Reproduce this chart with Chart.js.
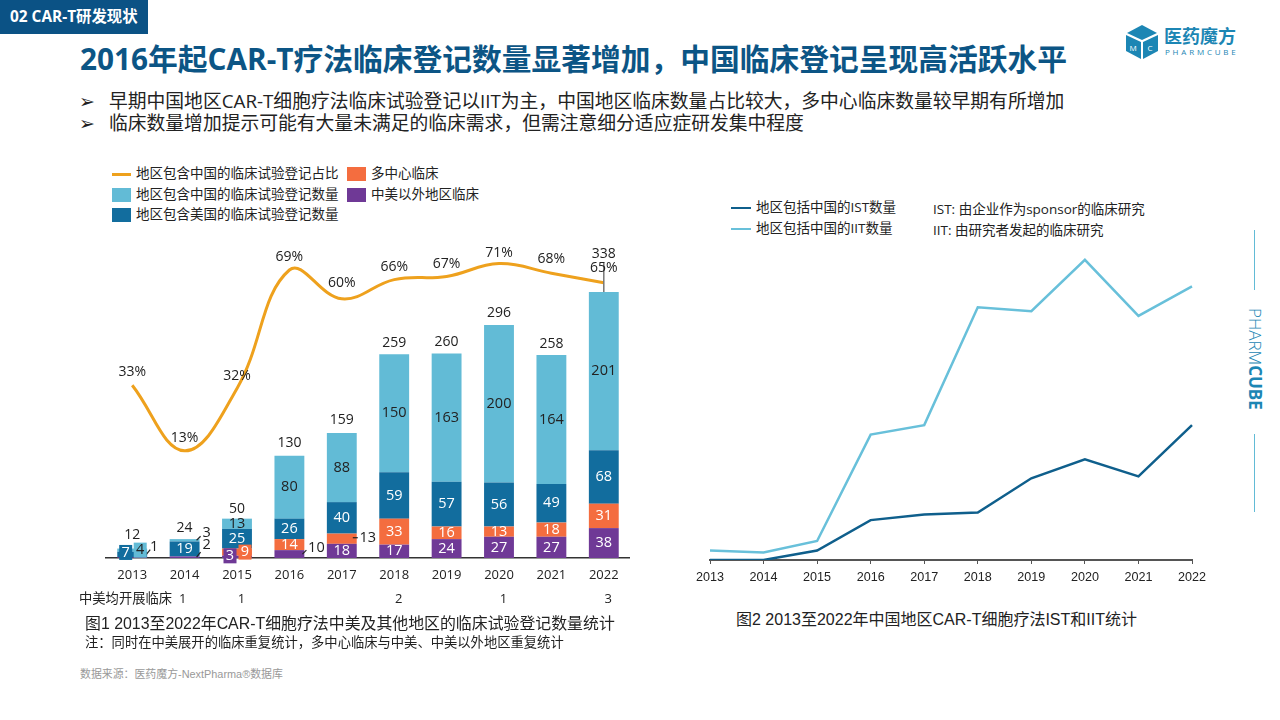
<!DOCTYPE html>
<html>
<head>
<meta charset="utf-8">
<script src="https://cdn.jsdelivr.net/npm/chart.js@4"></script>
<style>
html,body{margin:0;padding:0;background:#fff}
body{width:1280px;height:720px;position:relative;overflow:hidden;font-family:"Open Sans","Noto Sans CJK SC",sans-serif;color:#222}
.t{position:absolute;white-space:nowrap;line-height:1}
.a{font-family:"Liberation Sans","Noto Sans CJK SC",sans-serif}
canvas{position:absolute}
.sw{position:absolute;width:19px;height:14px}
.rule{position:absolute;background:#62bbd6}
</style>
</head>
<body>
<div class="t" style="left:0;top:0;width:148px;height:34px;background:#0b5285;color:#fff;font-size:15.4px;font-weight:700;line-height:34px;text-indent:10px">02 CAR-T研发现状</div>
<div class="t" style="left:80px;top:42px;font-size:29.75px;font-weight:700;color:#0c5585;line-height:34px">2016年起CAR-T疗法临床登记数量显著增加，中国临床登记呈现高活跃水平</div>

<svg style="position:absolute;left:1125px;top:24px" width="34" height="36" viewBox="0 0 34 36">
<polygon points="17,1 32,9 17,16 2,9" fill="#1c86b4"/>
<polygon points="1,11 16,18 16,35 1,27" fill="#1c86b4"/>
<polygon points="33,11 18,18 18,35 33,27" fill="#1c86b4"/>
<text x="8" y="27" font-size="8" fill="#fff" text-anchor="middle" font-family="Open Sans">M</text>
<text x="25" y="27" font-size="8" fill="#fff" text-anchor="middle" font-family="Open Sans">C</text>
</svg>
<div class="t" style="left:1164px;top:27px;font-size:18px;font-weight:600;color:#1c86b4">医药魔方</div>
<div class="t" style="left:1165px;top:48px;font-size:8px;letter-spacing:2.8px;color:#1c86b4">PHARMCUBE</div>

<div class="t" style="left:79px;top:92px;font-size:19px">➢</div>
<div class="t" style="left:109px;top:92px;font-size:18.8px">早期中国地区CAR-T细胞疗法临床试验登记以IIT为主，中国地区临床数量占比较大，多中心临床数量较早期有所增加</div>
<div class="t" style="left:79px;top:114px;font-size:19px">➢</div>
<div class="t" style="left:109px;top:114px;font-size:18.8px">临床数量增加提示可能有大量未满足的临床需求，但需注意细分适应症研发集中程度</div>

<div style="position:absolute;left:112px;top:173px;width:19px;height:3px;background:#eea11d"></div>
<div class="t" style="left:136px;top:167px;font-size:13.5px">地区包含中国的临床试验登记占比</div>
<div class="sw" style="left:112px;top:188px;background:#62bbd6"></div>
<div class="t" style="left:136px;top:188px;font-size:13.5px">地区包含中国的临床试验登记数量</div>
<div class="sw" style="left:112px;top:208px;background:#126d9e"></div>
<div class="t" style="left:136px;top:208px;font-size:13.5px">地区包含美国的临床试验登记数量</div>
<div class="sw" style="left:347px;top:167px;background:#f46d3f"></div>
<div class="t" style="left:371px;top:167px;font-size:13.5px">多中心临床</div>
<div class="sw" style="left:347px;top:188px;background:#6f3996"></div>
<div class="t" style="left:371px;top:188px;font-size:13.5px">中美以外地区临床</div>

<canvas id="chart-left" width="550" height="360" style="left:80px;top:230px"></canvas>

<div class="t" style="left:79px;top:592px;font-size:13.3px">中美均开展临床</div>
<div id="both-row"></div>
<div class="t a" style="left:85px;top:616px;font-size:15.9px">图1 2013至2022年CAR-T细胞疗法中美及其他地区的临床试验登记数量统计</div>
<div class="t" style="left:85px;top:636px;font-size:13.3px">注：同时在中美展开的临床重复统计，多中心临床与中美、中美以外地区重复统计</div>
<div class="t a" style="left:80px;top:669px;font-size:10.9px;color:#999">数据来源：医药魔方-NextPharma®数据库</div>

<div style="position:absolute;left:731px;top:207px;width:20px;height:2px;background:#0f5f8c"></div>
<div class="t" style="left:756px;top:201px;font-size:13.5px">地区包括中国的IST数量</div>
<div style="position:absolute;left:731px;top:228px;width:20px;height:2px;background:#68c0da"></div>
<div class="t" style="left:756px;top:222px;font-size:13.5px">地区包括中国的IIT数量</div>
<div class="t" style="left:933px;top:203px;font-size:13.5px">IST: 由企业作为sponsor的临床研究</div>
<div class="t" style="left:933px;top:224px;font-size:13.5px">IIT: 由研究者发起的临床研究</div>

<canvas id="chart-right" width="518" height="360" style="left:690px;top:230px"></canvas>
<div class="t a" style="left:736px;top:612px;font-size:16px">图2 2013至2022年中国地区CAR-T细胞疗法IST和IIT统计</div>

<div class="rule" style="left:1254px;top:230px;width:1px;height:60px"></div>
<div class="rule" style="left:1254px;top:434px;width:1px;height:78px"></div>
<div class="t" style="left:1247px;top:308px;font-size:17px;font-weight:300;color:#1c86b4;writing-mode:vertical-rl"><span>PHARM</span><b style="font-weight:700">CUBE</b></div>

<script>
const years=['2013','2014','2015','2016','2017','2018','2019','2020','2021','2022'];
const otherRegion=[1,2,3,10,18,17,24,27,27,38];
const multiCenter=[0,0,9,14,13,33,16,13,18,31];
const usCount=[7,19,25,26,40,59,57,56,49,68];
const chinaCount=[4,3,13,80,88,150,163,200,164,201];
const totals=[12,24,50,130,159,259,260,296,258,338];
const chinaShare=[33,12.5,32,69,60,66,67,71,68,65];
const bothCount=[1,null,1,null,null,2,null,1,null,3];
const istCount=[0,0,5,21,24,25,43,53,44,71];
const iitCount=[5,4,10,66,71,133,131,158,128.5,144];

const FONT='"Open Sans","Noto Sans CJK SC",sans-serif';
const C_LIGHT='#62bbd6',C_DARK='#126d9e',C_ORANGE='#f46d3f',C_PURPLE='#6f3996',C_LINE='#eea11d',C_NAVY='#0f5f8c';

// small segments: label nudge, coloured box, or leader (relative to the label)
const nudges={
  '0,0':{dx:22,dy:-11,leader:[-8,8,-4,3],text:'#222'},
  '0,1':{dx:22,dy:-12,leader:[-10,12,-6,7],text:'#222'},
  '0,2':{dx:-7,dy:-1,box:1},
  '0,3':{dx:27,dy:-6,leader:[-14,6,-10,2],text:'#222'},
  '1,2':{dx:8,dy:0,box:1},
  '1,4':{dx:26,dy:-1,leader:[-15,0,-10,0],text:'#222'},
  '2,0':{dx:-6.5,dy:-2,box:1},
  '3,0':{dx:8,dy:0,box:1,text:'#222'},
  '3,1':{dx:22,dy:-7,leader:[-10,7,-6,3],text:'#222'}
};
const totalNudge=[-14,-11,-10,-13,-13,-11,-11,-12,-11,-38];
const shareNudge=[-13,-13,-12,-13,-16,-13,-12,-11,-14,-15];

const barLabels={
  id:'barLabels',
  afterDraw(chart){
    const {ctx,scales}=chart;
    ctx.save();
    ctx.font='14.5px '+FONT; ctx.textAlign='center'; ctx.textBaseline='middle';
    chart.data.datasets.forEach((ds,d)=>{
      if(ds.type==='line') return;
      chart.getDatasetMeta(d).data.forEach((bar,i)=>{
        const v=ds.data[i]; if(!v) return;
        const n=nudges[d+','+i]||{dx:0,dy:0};
        const cx=bar.x+n.dx, cy=(bar.y+bar.base)/2+n.dy;
        if(n.box){
          ctx.fillStyle=ds.backgroundColor;
          ctx.fillRect(cx-6.5,cy-7.5,13,15);
        }
        if(n.leader){
          const l=n.leader;
          ctx.strokeStyle='#222'; ctx.lineWidth=1.2;
          ctx.beginPath(); ctx.moveTo(cx+l[0],cy+l[1]); ctx.lineTo(cx+l[2],cy+l[3]); ctx.stroke();
        }
        ctx.fillStyle=n.text||(d<3?'#fff':'#222');
        ctx.fillText(v,cx,cy);
      });
    });
    // totals above each stack, shares above the line
    const lineMeta=chart.getDatasetMeta(4);
    // leader from the last point down to the bar
    const last=lineMeta.data[9];
    ctx.strokeStyle='#777'; ctx.lineWidth=1.5;
    ctx.beginPath(); ctx.moveTo(last.x,last.y-20); ctx.lineTo(last.x,scales.y.getPixelForValue(338)); ctx.stroke();
    ctx.font='14px '+FONT; ctx.fillStyle='#222';
    totals.forEach((t,i)=>{
      ctx.fillText(t,scales.x.getPixelForValue(i),scales.y.getPixelForValue(t)+totalNudge[i]);
    });
    lineMeta.data.forEach((pt,i)=>{
      ctx.fillText(Math.round(chinaShare[i])+'%',pt.x,pt.y+shareNudge[i]);
    });
    ctx.restore();
  }
};

new Chart(document.getElementById('chart-left'),{
  type:'bar',
  data:{labels:years,datasets:[
    {label:'中美以外地区临床',data:otherRegion,backgroundColor:C_PURPLE,stack:'s'},
    {label:'多中心临床',data:multiCenter,backgroundColor:C_ORANGE,stack:'s'},
    {label:'地区包含美国的临床试验登记数量',data:usCount,backgroundColor:C_DARK,stack:'s'},
    {label:'地区包含中国的临床试验登记数量',data:chinaCount,backgroundColor:C_LIGHT,stack:'s'},
    {type:'line',label:'地区包含中国的临床试验登记占比',data:chinaShare,yAxisID:'y2',borderColor:C_LINE,borderWidth:3,pointRadius:0,tension:0.4}
  ]},
  options:{
    responsive:false,animation:false,devicePixelRatio:1,
    layout:{padding:{left:26,right:0,top:0,bottom:0}},
    plugins:{legend:{display:false},tooltip:{enabled:false}},
    categoryPercentage:1,barPercentage:0.57,
    scales:{
      x:{stacked:true,grid:{display:false,drawTicks:false},border:{color:'#333',width:1.5},
         ticks:{color:'#222',autoSkip:false,font:{size:13,family:FONT},padding:9,maxRotation:0},
         afterFit(s){s.height=32;}},
      y:{stacked:true,display:false,min:0,max:416.8},
      y2:{display:false,min:-21,max:81.5}
    }
  },
  plugins:[barLabels]
});

new Chart(document.getElementById('chart-right'),{
  type:'line',
  data:{labels:years,datasets:[
    {label:'地区包括中国的IST数量',data:istCount,borderColor:C_NAVY,borderWidth:2.5,pointRadius:0,tension:0},
    {label:'地区包括中国的IIT数量',data:iitCount,borderColor:'#68c0da',borderWidth:2.5,pointRadius:0,tension:0}
  ]},
  options:{
    responsive:false,animation:false,devicePixelRatio:1,
    layout:{padding:{left:20,right:16,top:0,bottom:0}},
    plugins:{legend:{display:false},tooltip:{enabled:false}},
    scales:{
      x:{offset:false,grid:{drawOnChartArea:false,drawTicks:true,tickLength:4,color:'#555'},border:{color:'#555',width:2},
         ticks:{color:'#222',autoSkip:false,align:'center',font:{size:12.6,family:'"Liberation Sans",sans-serif'},padding:6,maxRotation:0},
         afterFit(s){s.height=30;s.paddingRight=0;s.paddingLeft=0;}},
      y:{display:false,min:0,max:173.7}
    }
  }
});

const both=document.getElementById('both-row');
bothCount.forEach((v,i)=>{
  if(v==null) return;
  const el=document.createElement('div');
  el.className='t'; el.textContent=v;
  el.style.cssText='left:'+(i===0?179:132+52.4*i+1)+'px;top:592px;font-size:13px';
  both.appendChild(el);
});
</script>
</body>
</html>
